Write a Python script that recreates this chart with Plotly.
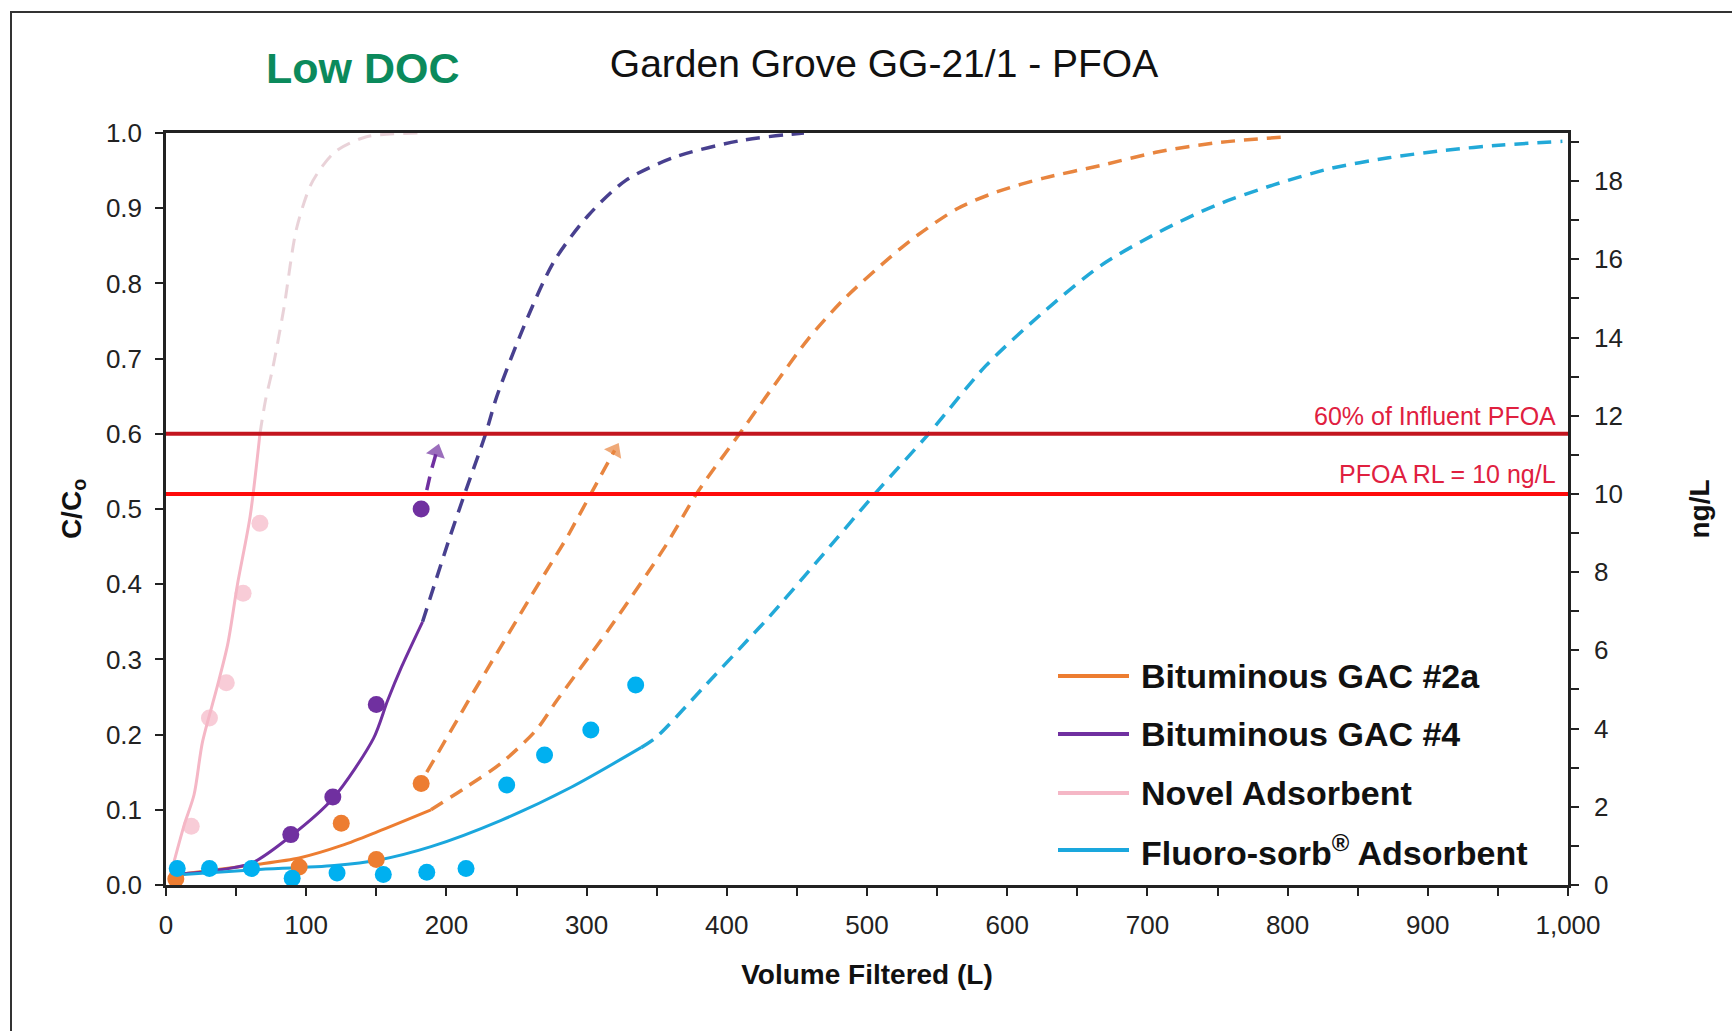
import plotly.graph_objects as go

# ---------------- data (volume filtered in L, C/C0) ----------------
series_names = ["Bituminous GAC #2a", "Bituminous GAC #4", "Novel Adsorbent",
                "Fluoro-sorb<sup>®</sup> Adsorbent"]

# Bituminous GAC #2a
gac2a_pts_x = [7, 95, 125, 150, 182]
gac2a_pts_y = [0.008, 0.024, 0.082, 0.034, 0.135]
gac2a_fit_x = [4, 30, 63, 95, 126, 151, 189]
gac2a_fit_y = [0.013, 0.019, 0.027, 0.036, 0.053, 0.071, 0.100]
gac2a_pred_x = [189, 214, 239, 264, 279, 317, 356, 379, 411, 434, 458, 483, 516,
                536, 565, 593, 626, 667, 708, 749, 800]
gac2a_pred_y = [0.100, 0.130, 0.162, 0.206, 0.246, 0.343, 0.450, 0.522, 0.605, 0.665,
                0.726, 0.778, 0.834, 0.864, 0.900, 0.922, 0.940, 0.957, 0.975, 0.987,
                0.995]
gac2a_arrow_x = [186, 216, 260, 286, 320]
gac2a_arrow_y = [0.150, 0.246, 0.383, 0.462, 0.578]

# Bituminous GAC #4
gac4_pts_x = [89, 119, 150, 182]
gac4_pts_y = [0.067, 0.117, 0.240, 0.500]
gac4_fit_x = [4, 30, 61, 89, 119, 148, 158, 168, 183]
gac4_fit_y = [0.014, 0.018, 0.029, 0.065, 0.115, 0.195, 0.245, 0.290, 0.350]
gac4_pred_x = [183, 202, 213, 228, 236, 258, 277, 301, 328, 363, 410, 455]
gac4_pred_y = [0.350, 0.460, 0.520, 0.600, 0.650, 0.755, 0.830, 0.890, 0.937, 0.968,
               0.990, 1.000]
gac4_arrow_x = [186, 189, 193]
gac4_arrow_y = [0.525, 0.550, 0.576]

# Novel adsorbent
novel_pts_x = [18, 31, 43, 55, 67]
novel_pts_y = [0.078, 0.222, 0.269, 0.388, 0.481]
novel_fit_x = [3, 13, 20, 26, 36, 44, 51, 60, 67]
novel_fit_y = [0.012, 0.080, 0.120, 0.190, 0.260, 0.320, 0.400, 0.490, 0.600]
novel_pred_x = [67, 71, 76, 84, 93, 103, 112, 122, 143, 180]
novel_pred_y = [0.600, 0.645, 0.686, 0.766, 0.872, 0.930, 0.957, 0.977, 0.995, 1.000]

# Fluoro-sorb adsorbent
fluoro_pts_x = [8, 31, 61, 90, 122, 155, 186, 214, 243, 270, 303, 335]
fluoro_pts_y = [0.022, 0.022, 0.022, 0.009, 0.016, 0.014, 0.017, 0.022, 0.133, 0.173,
                0.206, 0.266]
fluoro_fit_x = [4, 61, 120, 151, 189, 239, 289, 339]
fluoro_fit_y = [0.013, 0.020, 0.026, 0.033, 0.051, 0.086, 0.130, 0.183]
fluoro_pred_x = [339, 350, 383, 416, 430, 462, 507, 544, 585, 626, 667, 708, 749, 790,
                 831, 872, 912, 953, 996]
fluoro_pred_y = [0.183, 0.197, 0.262, 0.328, 0.356, 0.425, 0.523, 0.600, 0.691, 0.762,
                 0.824, 0.868, 0.904, 0.931, 0.953, 0.967, 0.977, 0.984, 0.989]

# reference levels (C/C0) and their labels
influent_60_level = 0.60
rl_level = 0.52
influent_ngL = 10 / rl_level  # right axis: C/C0 = 1 corresponds to influent ng/L
level_labels = ["60% of Influent PFOA", "PFOA RL = 10 ng/L"]

x_range = [0, 1000]
x_ticks = [0, 100, 200, 300, 400, 500, 600, 700, 800, 900, 1000]

# ---------------- styling ----------------
FONT = "Liberation Sans, Arial, sans-serif"
ORANGE, ORANGE_D = "#ED7D31", "#E8853F"
PURPLE, PURPLE_D = "#7030A0", "#48408F"
PINK, PINK_D = "#F5B7C6", "rgba(225,195,203,0.75)"
CYAN, CYAN_D = "#1AA7DD", "#22A9D8"
CYAN_PT = "#00B0F0"
DASH = "14px,9px"

fig = go.Figure()


def line(x, y, color, dash=None, width=3):
    fig.add_trace(go.Scatter(x=x, y=y, mode="lines", showlegend=False,
                             line=dict(color=color, width=width, dash=dash,
                                       shape="spline", smoothing=0.8),
                             hoverinfo="skip"))


def arrow(x, y, color):
    sizes = [0] * (len(x) - 1) + [17]
    fig.add_trace(go.Scatter(x=x, y=y, mode="lines+markers", showlegend=False,
                             line=dict(color=color, width=3.5, dash=DASH),
                             marker=dict(symbol="triangle-up", size=sizes, color=color,
                                         angleref="previous", line=dict(width=0)),
                             hoverinfo="skip"))


def points(x, y, color, opacity=1.0):
    fig.add_trace(go.Scatter(x=x, y=y, mode="markers", showlegend=False,
                             marker=dict(symbol="circle", size=17, color=color,
                                         opacity=opacity, line=dict(width=0))))


# novel adsorbent (faint)
line(novel_pred_x, novel_pred_y, PINK_D, DASH, 3)
line(novel_fit_x, novel_fit_y, PINK, None, 3)
points(novel_pts_x, novel_pts_y, PINK, 0.7)

# model predictions (dashed) and fits (solid)
line(gac4_pred_x, gac4_pred_y, PURPLE_D, DASH, 3.5)
line(gac2a_pred_x, gac2a_pred_y, ORANGE_D, DASH, 3.5)
line(fluoro_pred_x, fluoro_pred_y, CYAN_D, DASH, 3.5)
line(gac2a_fit_x, gac2a_fit_y, ORANGE)
line(gac4_fit_x, gac4_fit_y, PURPLE)
line(fluoro_fit_x, fluoro_fit_y, CYAN)

arrow(gac4_arrow_x, gac4_arrow_y, PURPLE)
arrow(gac2a_arrow_x, gac2a_arrow_y, ORANGE_D)

# reference lines
fig.add_trace(go.Scatter(x=x_range, y=[influent_60_level] * 2, mode="lines",
                         showlegend=False, line=dict(color="#C3151F", width=4),
                         hoverinfo="skip"))
fig.add_trace(go.Scatter(x=x_range, y=[rl_level] * 2, mode="lines",
                         showlegend=False, line=dict(color="#FF0A0A", width=4),
                         hoverinfo="skip"))

# measured points
points(gac2a_pts_x, gac2a_pts_y, ORANGE)
points(fluoro_pts_x, fluoro_pts_y, CYAN_PT)
points(gac4_pts_x, gac4_pts_y, PURPLE)

# secondary axis carrier (ng/L)
fig.add_trace(go.Scatter(x=[None], y=[None], yaxis="y2", showlegend=False))

W, H = 1732, 1031
L, R, T, B = 166, 164, 133, 146
pw, ph = W - L - R, H - T - B


def px_x(p):
    return (p - L) / pw


def px_y(p):
    return (H - B - p) / ph


annotations = [
    dict(text="<b>Low DOC</b>", x=px_x(362), y=px_y(68), xref="paper", yref="paper",
         xanchor="center", yanchor="middle", showarrow=False,
         font=dict(family=FONT, size=43, color="#0B8A5C")),
    dict(text=level_labels[0], x=993, y=influent_60_level + 0.002, xref="x",
         yref="y", xanchor="right", yanchor="bottom", showarrow=False,
         font=dict(family=FONT, size=25, color="#E0203F")),
    dict(text=level_labels[1], x=993, y=rl_level + 0.005, xref="x", yref="y",
         xanchor="right", yanchor="bottom", showarrow=False,
         font=dict(family=FONT, size=25, color="#E0203F")),
]

shapes = [
    # outer frame
    dict(type="rect", xref="paper", yref="paper", x0=px_x(11), x1=px_x(1745),
         y0=px_y(1045), y1=px_y(12), line=dict(color="#333333", width=2)),
]

# legend drawn as line samples with labels
legend_colors = [ORANGE, PURPLE, PINK, CYAN]
legend_rows = [676, 734, 793, 850]
for name, col, ry in zip(series_names, legend_colors, legend_rows):
    shapes.append(dict(type="line", xref="paper", yref="paper", x0=px_x(1058),
                       x1=px_x(1129), y0=px_y(ry), y1=px_y(ry),
                       line=dict(color=col, width=4)))
    annotations.append(dict(text="<b>" + name + "</b>", x=px_x(1139), y=px_y(ry),
                            xref="paper", yref="paper", xanchor="left",
                            yanchor="middle", showarrow=False,
                            font=dict(family=FONT, size=34, color="#111111")))

axis_common = dict(showgrid=False, zeroline=False, showline=True, linecolor="#222222",
                   linewidth=2.5, ticks="outside", ticklen=8, tickwidth=2,
                   tickcolor="#222222")

fig.update_layout(
    width=W, height=H,
    margin=dict(l=L, r=R, t=T, b=B),
    paper_bgcolor="white", plot_bgcolor="white",
    title=dict(text="Garden Grove GG-21/1 - PFOA", x=884 / W,
               xanchor="center", y=1 - 63 / H, yanchor="middle",
               font=dict(family=FONT, size=39, color="#111111")),
    xaxis=dict(range=x_range, tickvals=x_ticks, tickformat=",d", mirror=True,
               tickfont=dict(family=FONT, size=26, color="#222222"),
               ticklabelstandoff=7,
               minor=dict(dtick=50, ticks="outside", ticklen=8, tickwidth=2,
                          tickcolor="#222222"),
               title=dict(text="<b>Volume Filtered (L)</b>", standoff=26,
                          font=dict(family=FONT, size=28, color="#111111")),
               **axis_common),
    yaxis=dict(range=[0, 1], dtick=0.1, tickformat=".1f",
               tickfont=dict(family=FONT, size=26, color="#222222"),
               ticklabelstandoff=8,
               title=dict(text="<b>C/C<sub>o</sub></b>", standoff=17,
                          font=dict(family=FONT, size=28, color="#111111")),
               **axis_common),
    yaxis2=dict(range=[0, influent_ngL], overlaying="y", side="right", dtick=2,
                tickfont=dict(family=FONT, size=26, color="#222222"),
                ticklabelstandoff=10,
                minor=dict(dtick=1, ticks="outside", ticklen=8, tickwidth=2,
                           tickcolor="#222222"),
                title=dict(text="<b>ng/L</b>", standoff=68,
                           font=dict(family=FONT, size=28, color="#111111")),
                **axis_common),
    annotations=annotations,
    shapes=shapes,
    showlegend=False,
)

fig.write_html("out.html")
